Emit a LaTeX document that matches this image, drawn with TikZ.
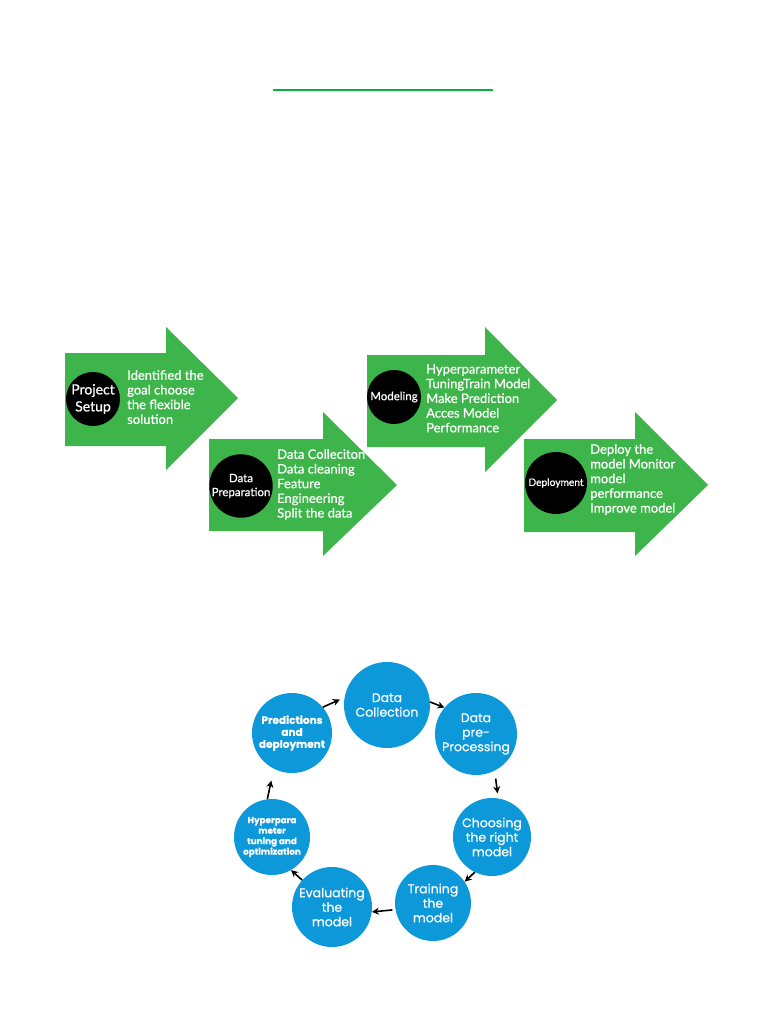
\documentclass[tikz,border=0pt]{standalone}
\usepackage{fontspec}
\setmainfont[FakeBold=0.6]{Lato}
\newfontfamily\cyclefont[FakeBold=0.7]{Poppins}
\usetikzlibrary{arrows.meta}
\definecolor{stagegreen}{RGB}{61,181,74}
\definecolor{linegreen}{RGB}{0,178,64}
\definecolor{cycleblue}{RGB}{12,152,217}

\begin{document}
\begin{tikzpicture}[x=1pt,y=-1pt,
  dot/.style={circle,fill=black,text=white,inner sep=0pt,align=center},
  info/.style={text=white,inner sep=0pt,align=left,anchor=north west,font=\fontsize{13}{14.7}\selectfont},
  bubble/.style={circle,fill=cycleblue,text=white,inner sep=0pt,align=center,font=\cyclefont\fontsize{12.5}{14.5}\selectfont},
  flow/.style={-{Stealth[length=7pt,width=7pt]},line width=1.6pt}]
\useasboundingbox (0,0) rectangle (768,1024);
\draw[linegreen,line width=1.6pt] (273,90) -- (493,90);

\fill[stagegreen] (65,353) -- (166,353) -- (166,327) -- (238,398) -- (166,470) -- (166,446) -- (65,446) -- cycle;
\fill[stagegreen] (209,439) -- (323,439) -- (323,412) -- (397,485) -- (323,556) -- (323,531) -- (209,531) -- cycle;
\fill[stagegreen] (367,355) -- (485,355) -- (485,327) -- (557,400) -- (485,472) -- (485,447) -- (367,447) -- cycle;
\fill[stagegreen] (524,439) -- (635,439) -- (635,412) -- (708,485) -- (635,556) -- (635,532) -- (524,532) -- cycle;

\node [dot,minimum size=54pt,font=\fontsize{14}{17}\selectfont] (setup) at (93,399) {Project\\Setup};
\node [dot,minimum size=62pt,font=\fontsize{11.5}{14}\selectfont] (prep) at (241,486) {Data\\Preparation};
\node [dot,minimum size=54pt,font=\fontsize{11.5}{12}\selectfont] (model) at (394,397) {Modeling};
\node [dot,minimum size=62pt,font=\fontsize{10.2}{12}\selectfont] (deploy) at (556,483) {Deployment};

\node [info] (setupinfo) at (127,370) {Identified the\\goal choose\\the flexible\\solution};
\node [info] (prepinfo) at (277,449) {Data Colleciton\\Data cleaning\\Feature\\Engineering\\Split the data};
\node [info] (modelinfo) at (426,364) {Hyperparameter\\TuningTrain Model\\Make Prediction\\Acces Model\\Performance};
\node [info] (deployinfo) at (590,444) {Deploy the\\model Monitor\\model\\performance\\Improve model};

% cycle
\node [bubble,minimum size=86pt] (collect) at (387,705) {Data\\Collection};
\node [bubble,minimum size=82pt] (preproc) at (476,734) {Data\\pre-\\Processing};
\node [bubble,minimum size=78pt] (choose) at (492,837) {Choosing\\the right\\model};
\node [bubble,minimum size=76pt] (train) at (433,903) {Training\\the\\model};
\node [bubble,minimum size=80pt] (eval) at (332,907) {Evaluating\\the\\model};
\node [bubble,minimum size=76pt,font=\cyclefont\bfseries\fontsize{8.8}{10.5}\selectfont] (tune) at (272,837) {Hyperpara\\meter\\tuning and\\optimization};
\node [bubble,minimum size=80pt,font=\cyclefont\bfseries\fontsize{10.5}{12}\selectfont] (predict) at (292,733) {Predictions\\and\\deployment};

\draw[flow,shorten >=5pt] (predict.40) -- (collect.170);
\draw[flow] (collect.4) -- (preproc.140);
\draw[flow,shorten <=8pt,shorten >=5pt] (preproc.-63) -- (choose.81);
\draw[flow] (choose.-116) -- (train.34);
\draw[flow,shorten <=3pt] (train.190) -- (eval.-7);
\draw[flow] (eval.138) -- (tune.-60);
\draw[flow,shorten >=12pt] (tune.97) -- (predict.-117);
\end{tikzpicture}
\end{document}
